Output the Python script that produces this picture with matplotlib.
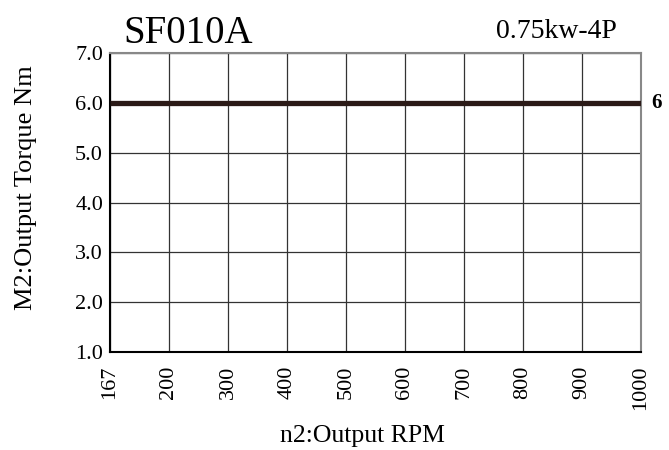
import matplotlib
matplotlib.use("Agg")
import matplotlib.pyplot as plt

# Données
rpm_labels = ["167", "200", "300", "400", "500", "600", "700", "800", "900", "1000"]
torque = [6, 6, 6, 6, 6, 6, 6, 6, 6, 6]
y_ticks = [1.0, 2.0, 3.0, 4.0, 5.0, 6.0, 7.0]

plt.rcParams["font.family"] = ["Liberation Serif", "DejaVu Serif"]

fig = plt.figure(figsize=(6.69, 4.5), dpi=100)
ax = fig.add_axes([0.1644, 0.2178, 0.7937, 0.6644])

x = list(range(len(rpm_labels)))
ax.plot(x, torque, color="#2b1a17", lw=3.8, solid_capstyle="butt", zorder=3)

ax.set_xlim(0, len(rpm_labels) - 1)
ax.set_ylim(y_ticks[0], y_ticks[-1])
ax.set_xticks(x)
ax.set_xticklabels(rpm_labels, rotation=90, fontsize=16)
ax.set_yticks(y_ticks)
ax.set_yticklabels([f"{v:.1f}" for v in y_ticks], fontsize=16)
ax.tick_params(axis="y", length=0, pad=5)
ax.tick_params(axis="x", length=0, pad=10)

ax.grid(True, color="#333333", lw=0.9)
for side in ["left", "bottom"]:
    ax.spines[side].set_color("black")
    ax.spines[side].set_linewidth(1.5)
for side in ["top", "right"]:
    ax.spines[side].set_color("#888888")
    ax.spines[side].set_linewidth(1.5)

ax.set_xlabel("n2:Output RPM", fontsize=18.5)
ax.xaxis.set_label_coords(0.475, -0.245)
ax.set_ylabel("M2:Output Torque Nm", fontsize=19)
ax.yaxis.set_label_coords(-0.138, 0.55)

fig.text(0.185, 0.905, "SF010A", fontsize=28)
fig.text(0.742, 0.915, "0.75kw-4P", fontsize=20)
ax.text(1.02, torque[-1], "6", transform=ax.get_yaxis_transform(),
        fontsize=15, fontweight="bold", va="center", ha="left")

fig.savefig("out.png", dpi=100)
